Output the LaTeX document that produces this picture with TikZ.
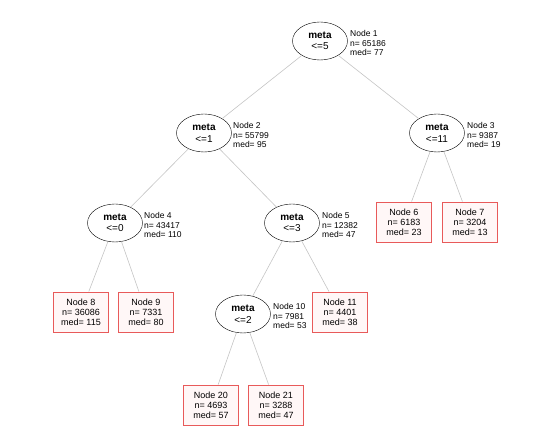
\documentclass[tikz,border=0pt]{standalone}
\usepackage{fontspec}
\setmainfont{Liberation Sans}
\usetikzlibrary{shapes.geometric}
\definecolor{treeedge}{HTML}{C4C4C4}
\definecolor{leafred}{HTML}{E85A5A}
\definecolor{leaffill}{HTML}{FFF7F7}
\tikzset{
  splt/.style={ellipse, draw=black, fill=white, align=center, font=\fontsize{10}{11.5}\selectfont, minimum width=55pt, minimum height=38pt, inner sep=0pt},
  leaf/.style={rectangle, draw=leafred, thick, fill=leaffill, align=center, font=\fontsize{9}{10}\selectfont, minimum width=55pt, minimum height=40pt, inner sep=0pt},
  lbl/.style={anchor=west, align=left, font=\fontsize{8.5}{9.5}\selectfont, inner sep=0pt},
  edg/.style={draw=treeedge, line width=0.6pt},
}

\begin{document}
\begin{tikzpicture}[x=1pt, y=-1pt]
  \useasboundingbox (0,0) rectangle (550,443);
  % inner splits
  \node[splt] (n1) at (320,41) {\textbf{meta}\\<=5};
  \node[splt] (n2) at (204,133) {\textbf{meta}\\<=1};
  \node[splt] (n3) at (437,133) {\textbf{meta}\\<=11};
  \node[splt] (n4) at (115,223) {\textbf{meta}\\<=0};
  \node[splt] (n5) at (292,223) {\textbf{meta}\\<=3};
  \node[splt] (n10) at (243,314) {\textbf{meta}\\<=2};
  \node[lbl] (l1) at (350,43) {Node 1\\n= 65186\\med= 77};
  \node[lbl] (l2) at (233,135) {Node 2\\n= 55799\\med= 95};
  \node[lbl] (l3) at (467,135) {Node 3\\n= 9387\\med= 19};
  \node[lbl] (l4) at (144,225) {Node 4\\n= 43417\\med= 110};
  \node[lbl] (l5) at (322,225) {Node 5\\n= 12382\\med= 47};
  \node[lbl] (l10) at (273,316) {Node 10\\n= 7981\\med= 53};
  % terminal nodes
  \node[leaf] (n6) at (404,222) {Node 6\\n= 6183\\med= 23};
  \node[leaf] (n7) at (470,222) {Node 7\\n= 3204\\med= 13};
  \node[leaf] (n8) at (81,312) {Node 8\\n= 36086\\med= 115};
  \node[leaf] (n9) at (146,312) {Node 9\\n= 7331\\med= 80};
  \node[leaf] (n11) at (340,312) {Node 11\\n= 4401\\med= 38};
  \node[leaf] (n20) at (211,405) {Node 20\\n= 4693\\med= 57};
  \node[leaf] (n21) at (276,405) {Node 21\\n= 3288\\med= 47};
  \draw[edg] (n1)--(n2); \draw[edg] (n1)--(n3);
  \draw[edg] (n2)--(n4); \draw[edg] (n2)--(n5);
  \draw[edg] (n3)--(n6); \draw[edg] (n3)--(n7);
  \draw[edg] (n4)--(n8); \draw[edg] (n4)--(n9);
  \draw[edg] (n5)--(n10); \draw[edg] (n5)--(n11);
  \draw[edg] (n10)--(n20); \draw[edg] (n10)--(n21);
\end{tikzpicture}
\end{document}
